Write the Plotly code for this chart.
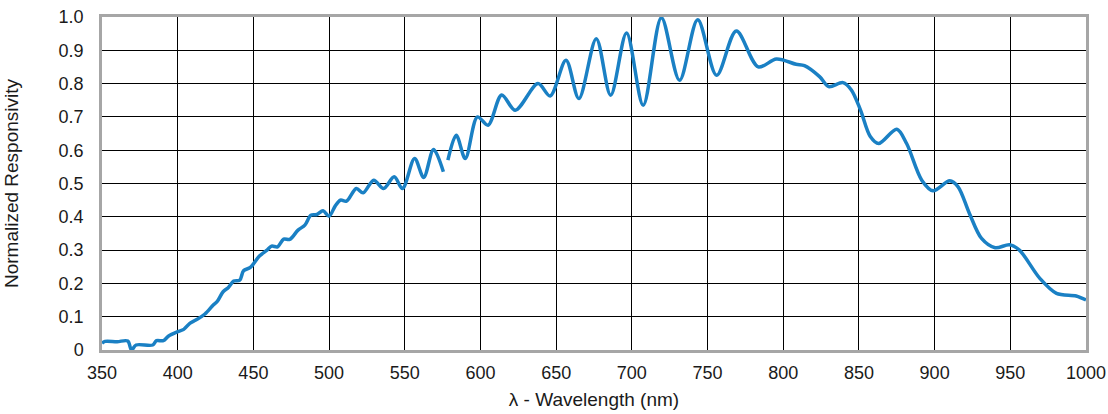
import plotly.graph_objects as go

# Segment 1 (before gap)
wl_1 = [350, 352, 360, 367, 369.5, 372.5, 383.5, 386, 390.5, 394, 400, 404, 408, 412, 418,
        423.5, 426, 430, 433.5, 437, 441, 443.5, 448, 454, 459, 462, 466, 470, 474, 479.5,
        484, 488, 492, 496, 500, 504, 507.5, 511.5, 518, 522.5, 529.5, 536, 543, 548.5,
        556.5, 562.5, 569, 575.5]
resp_1 = [0.02, 0.026, 0.025, 0.027, 0.0, 0.015, 0.015, 0.028, 0.028, 0.042, 0.055, 0.062, 0.08, 0.09, 0.108,
          0.135, 0.145, 0.175, 0.188, 0.207, 0.21, 0.238, 0.248, 0.282, 0.30, 0.312, 0.31, 0.333, 0.332, 0.36,
          0.375, 0.405, 0.407, 0.418, 0.402, 0.432, 0.45, 0.447, 0.485, 0.472, 0.51, 0.485, 0.52, 0.485,
          0.575, 0.518, 0.602, 0.535]

# Segment 2 (after gap)
wl_2 = [578.5, 584, 590, 598, 605, 614, 623, 638, 646, 656.5, 665, 676.5, 686, 696.5, 707.5,
        719.5, 731.5, 743.5, 756, 769, 783.5, 795.5, 808.5, 814, 824, 830, 839.5, 845, 851,
        857.5, 863, 875, 881.5, 891.5, 899, 910, 915.5, 923, 931, 940, 949.5, 956, 969.5,
        980.5, 993.5, 1000]
resp_2 = [0.57, 0.645, 0.575, 0.70, 0.675, 0.766, 0.72, 0.80, 0.763, 0.87, 0.755, 0.935, 0.765, 0.952, 0.735,
          0.998, 0.81, 0.992, 0.825, 0.958, 0.85, 0.874, 0.858, 0.854, 0.821, 0.791, 0.803, 0.781, 0.721,
          0.641, 0.62, 0.663, 0.62, 0.51, 0.478, 0.508, 0.49, 0.41, 0.335, 0.307, 0.316, 0.30, 0.215,
          0.17, 0.162, 0.15]

x_ticks = list(range(350, 1001, 50))
y_ticks = [i / 10 for i in range(11)]
y_labels = ["0"] + [f"{v:.1f}" for v in y_ticks[1:]]

line_color = "#1a80c4"

fig = go.Figure()
for wl, r in [(wl_1, resp_1), (wl_2, resp_2)]:
    fig.add_trace(go.Scatter(x=wl, y=r, mode="lines",
                             line=dict(color=line_color, width=3.5, shape="spline", smoothing=0.9),
                             showlegend=False, hoverinfo="skip"))

font_family = "Liberation Sans, Arial, sans-serif"
fig.update_layout(
    width=1108, height=414,
    margin=dict(l=102, r=22, t=17, b=64),
    paper_bgcolor="white", plot_bgcolor="white",
    font=dict(family=font_family, size=18, color="#1a1a1a"),
    showlegend=False,
)
fig.update_xaxes(
    range=[350, 1000], tickvals=x_ticks, ticktext=[str(v) for v in x_ticks],
    showgrid=True, gridcolor="#000000", gridwidth=1.3,
    showline=True, linecolor="#a6a6a6", linewidth=2.5, mirror=True,
    zeroline=False, ticks="", ticklabelstandoff=5, automargin=False,
    tickfont=dict(size=18),
    title=dict(text="λ - Wavelength (nm)", font=dict(size=19, family=font_family), standoff=11),
)
fig.update_yaxes(
    range=[0, 1.0], tickvals=y_ticks, ticktext=y_labels,
    showgrid=True, gridcolor="#000000", gridwidth=1.3,
    showline=True, linecolor="#a6a6a6", linewidth=2.5, mirror=True,
    zeroline=False, ticks="", ticklabelstandoff=12, automargin=False,
    tickfont=dict(size=18),
    title=dict(text="Normalized Responsivity", font=dict(size=19, family=font_family), standoff=35),
)

fig.write_html("out.html")
